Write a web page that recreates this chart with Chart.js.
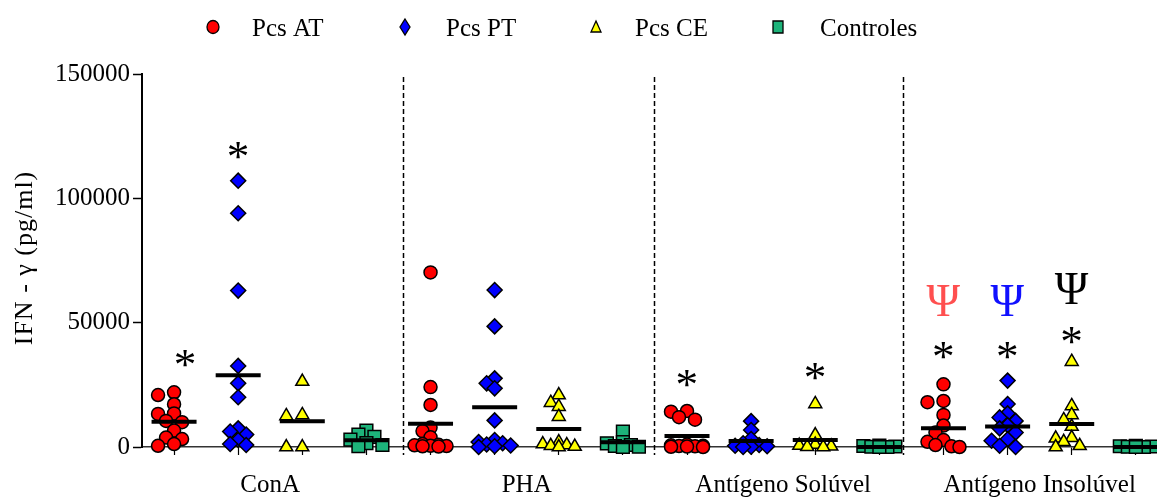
<!DOCTYPE html>
<html><head><meta charset="utf-8">
<script src="https://cdn.jsdelivr.net/npm/chart.js@4.4.1/dist/chart.umd.min.js"></script>
<style>html,body{margin:0;padding:0;background:#fff;}#wrap{width:1157px;height:498px;}</style>
</head><body><div id="wrap"><canvas id="c" width="1157" height="498"></canvas></div>
<script>
// ---- data (IFN-γ, pg/ml) ----
const groups = ['ConA', 'PHA', 'Antígeno Solúvel', 'Antígeno Insolúvel'];
const seriesNames = ['Pcs AT', 'Pcs PT', 'Pcs CE', 'Controles'];
const yTicks = [0, 50000, 100000, 150000];
const yTitle = 'IFN - γ (pg/ml)';

const pcsAT = [
  [22000, 20900, 17200, 13500, 13300, 10500, 10000, 6600, 3800, 3200, 1200, 500],
  [70200, 24100, 16900, 7800, 6400, 3900, 1200, 900, 700, 500, 400, 300, 200],
  [14500, 14200, 12000, 11000, 1000, 700, 500, 400, 300, 200, 100, 0],
  [25200, 18500, 18000, 12900, 8600, 5800, 2800, 2100, 800, 300, 0]
];
const pcsPT = [
  [107100, 94000, 62900, 32600, 25600, 20000, 7500, 6200, 5000, 2800, 1200, 800],
  [63100, 48500, 27600, 25600, 23600, 10700, 2800, 2000, 1500, 1000, 600, 300, 0],
  [10400, 6800, 3200, 1500, 800, 500, 300, 100, 0],
  [26700, 17300, 13500, 11900, 10500, 8800, 7500, 5800, 3100, 2500, 500, 0]
];
const pcsCE = [
  [26300, 12900, 12500, 0, 0],
  [20900, 17800, 16200, 12200, 2000, 1200, 800, 500, 200, 0],
  [17300, 4800, 1000, 600, 300, 100, 0],
  [34300, 16500, 12900, 10900, 8200, 3700, 3500, 2100, 500, 0]
];
const controles = [
  [6600, 5000, 4100, 3000, 1600, 800, 300],
  [6200, 2000, 1500, 800, 400, 100, 0],
  [600, 400, 200, 100, 0, 0],
  [500, 300, 200, 100, 0, 0]
];
// horizontal bars (central value) per series, per group
const barAT = [10200, 9400, 4400, 7500];
const barPT = [28900, 16000, 2400, 8200];
const barCE = [10400, 7200, 2800, 9200];
const barCtrl = [2700, 1900, 0, 0];
// significance marks: group, series, value level
const stars = [[0,0,35700],[0,1,119400],[2,0,27600],[2,2,30300],[3,0,39000],[3,1,39000],[3,2,45000]];
const psis = [[3,0,59100],[3,1,59100],[3,2,63800]];

// ---- styling ----
const FONT = '"Liberation Serif", "Times New Roman", serif';
const styles = [
  {fill:'#ff0000', shape:'circle', r:6.5},
  {fill:'#0000ff', shape:'rectRot', r:7.5},
  {fill:'#ffff00', shape:'triangle', r:7.5},
  {fill:'#1db37a', shape:'rect', r:9}
];
const psiColors = ['#ff4f4f', '#1010ff', '#000000'];
const sepPositions = [4.57, 8.48, 12.37];
const PX_X = 64.1, PX_Y = 373 / 150000;

function swarm(vals, center, step, minDist) {
  const placed = [], out = [];
  vals.forEach(v => {
    const py = v * PX_Y;
    let best = 0, bestD = -1;
    for (const k of [0, -1, 1, -2, 2]) {
      const px = k * step;
      let d = Infinity;
      for (const p of placed) d = Math.min(d, Math.hypot(p.px - px, p.py - py));
      if (d >= minDist) { best = px; break; }
      if (d > bestD) { bestD = d; best = px; }
    }
    placed.push({px: best, py});
    out.push({x: center + best / PX_X, y: v});
  });
  return out;
}

const allSeries = [pcsAT, pcsPT, pcsCE, controles];
const allBars = [barAT, barPT, barCE, barCtrl];
const datasets = [];
allSeries.forEach((ser, s) => {
  const pts = [];
  ser.forEach((vals, g) => pts.push(...swarm(vals, g * 4 + s + 1, 8, 8.5)));
  datasets.push({
    label: seriesNames[s], data: pts, pointStyle: styles[s].shape,
    pointRadius: styles[s].r, pointHoverRadius: styles[s].r,
    backgroundColor: styles[s].fill, borderColor: '#000', borderWidth: 1.5,
    clip: false, order: 1
  });
});
const barPts = [];
allBars.forEach((b, s) => b.forEach((v, g) => barPts.push({x: g * 4 + s + 1, y: v})));
datasets.push({label: 'bar', data: barPts, pointStyle: 'line', pointRadius: 22.5, pointHoverRadius: 22.5,
  borderColor: '#000', borderWidth: 4, backgroundColor: '#000', clip: false, order: 0});

function drawMarker(ctx, shape, x, y, fill) {
  ctx.save();
  ctx.fillStyle = fill; ctx.strokeStyle = '#000'; ctx.lineWidth = 1.3;
  ctx.beginPath();
  if (shape === 'circle') ctx.ellipse(x, y, 6, 6.5, 0, 0, Math.PI * 2);
  else if (shape === 'rectRot') { ctx.moveTo(x, y - 8); ctx.lineTo(x + 5, y); ctx.lineTo(x, y + 8); ctx.lineTo(x - 5, y); ctx.closePath(); }
  else if (shape === 'triangle') { ctx.moveTo(x, y - 6); ctx.lineTo(x + 5, y + 5); ctx.lineTo(x - 5, y + 5); ctx.closePath(); }
  else ctx.rect(x - 5, y - 6, 10, 12);
  ctx.fill(); ctx.stroke();
  ctx.restore();
}
function drawCentered(ctx, txt, x, y, sizePx, measure, color) {
  ctx.font = '100px ' + FONT;
  const m = ctx.measureText(txt);
  const ref = measure === 'w' ? (m.actualBoundingBoxLeft + m.actualBoundingBoxRight) : (m.actualBoundingBoxAscent + m.actualBoundingBoxDescent);
  const fs = 100 * sizePx / ref;
  ctx.font = fs + 'px ' + FONT;
  const m2 = ctx.measureText(txt);
  const cx = x - (m2.actualBoundingBoxRight - m2.actualBoundingBoxLeft) / 2;
  const by = y + (m2.actualBoundingBoxAscent - m2.actualBoundingBoxDescent) / 2;
  ctx.fillStyle = color; ctx.textAlign = 'left'; ctx.textBaseline = 'alphabetic';
  ctx.fillText(txt, cx, by);
}

const deco = {
  id: 'deco',
  beforeDatasetsDraw(chart) {
    const {ctx, chartArea, scales: {x}} = chart;
    ctx.save();
    ctx.strokeStyle = '#000'; ctx.lineWidth = 1.5; ctx.setLineDash([5, 3]);
    sepPositions.forEach(p => {
      const px = Math.round(x.getPixelForValue(p)) + 0.5;
      ctx.beginPath(); ctx.moveTo(px, chartArea.top + 3); ctx.lineTo(px, chartArea.bottom + 8); ctx.stroke();
    });
    ctx.restore();
  },
  afterDraw(chart) {
    const {ctx, chartArea, scales: {x, y}} = chart;
    ctx.save();
    // legend
    const lx = [213, 405, 596, 778], tx = [252, 446, 635, 820];
    ctx.textBaseline = 'alphabetic'; ctx.textAlign = 'left';
    seriesNames.forEach((n, i) => {
      drawMarker(ctx, styles[i].shape, lx[i], 27, styles[i].fill);
      ctx.font = '25px ' + FONT; ctx.fillStyle = '#000';
      ctx.fillText(n, tx[i], 36);
    });
    // group labels
    ctx.font = '25px ' + FONT; ctx.fillStyle = '#000';
    ctx.textAlign = 'center';
    groups.forEach((gname, g) => ctx.fillText(gname, x.getPixelForValue(g * 4 + 2.5), 492));
    // y title
    ctx.save();
    ctx.translate(32, 258);
    ctx.rotate(-Math.PI / 2);
    ctx.font = '26px ' + FONT;
    ctx.letterSpacing = '1px';
    ctx.textAlign = 'center'; ctx.textBaseline = 'alphabetic';
    ctx.fillText(yTitle, 0, 0);
    ctx.restore();
    // stars and psi
    stars.forEach(([g, s, v]) => drawCentered(ctx, '*', x.getPixelForValue(g * 4 + s + 1), y.getPixelForValue(v), 19, 'w', '#000'));
    psis.forEach(([g, s, v], i) => drawCentered(ctx, 'Ψ', x.getPixelForValue(g * 4 + s + 1), y.getPixelForValue(v), 30, 'h', psiColors[i]));
    ctx.restore();
  }
};

new Chart(document.getElementById('c'), {
  type: 'scatter',
  data: {datasets},
  options: {
    responsive: false, animation: false, devicePixelRatio: 1, events: [],
    layout: {autoPadding: false, padding: {top: 74, left: 0, right: 0, bottom: 0}},
    plugins: {legend: {display: false}, tooltip: {enabled: false}},
    scales: {
      x: {
        type: 'linear', min: 0.5, max: 16.33,
        afterBuildTicks: sc => { sc.ticks = Array.from({length: 16}, (_, i) => ({value: i + 1})); },
        afterFit: sc => { sc.height = 51; },
        ticks: {display: false},
        grid: {display: true, drawOnChartArea: false, drawTicks: true, tickLength: 8, tickColor: '#000', tickWidth: 1.2},
        border: {display: true, color: '#333', width: 1.5}
      },
      y: {
        min: 0, max: 150000,
        afterBuildTicks: sc => { sc.ticks = yTicks.map(v => ({value: v})); },
        afterFit: sc => { sc.width = 142; },
        ticks: {color: '#000', font: {family: FONT, size: 25}, padding: 3, callback: v => String(v)},
        grid: {display: true, drawOnChartArea: false, drawTicks: true, tickLength: 9, tickColor: '#000', tickWidth: 1.5},
        border: {display: true, color: '#000', width: 2}
      }
    }
  },
  plugins: [deco]
});
</script>
</body></html>
